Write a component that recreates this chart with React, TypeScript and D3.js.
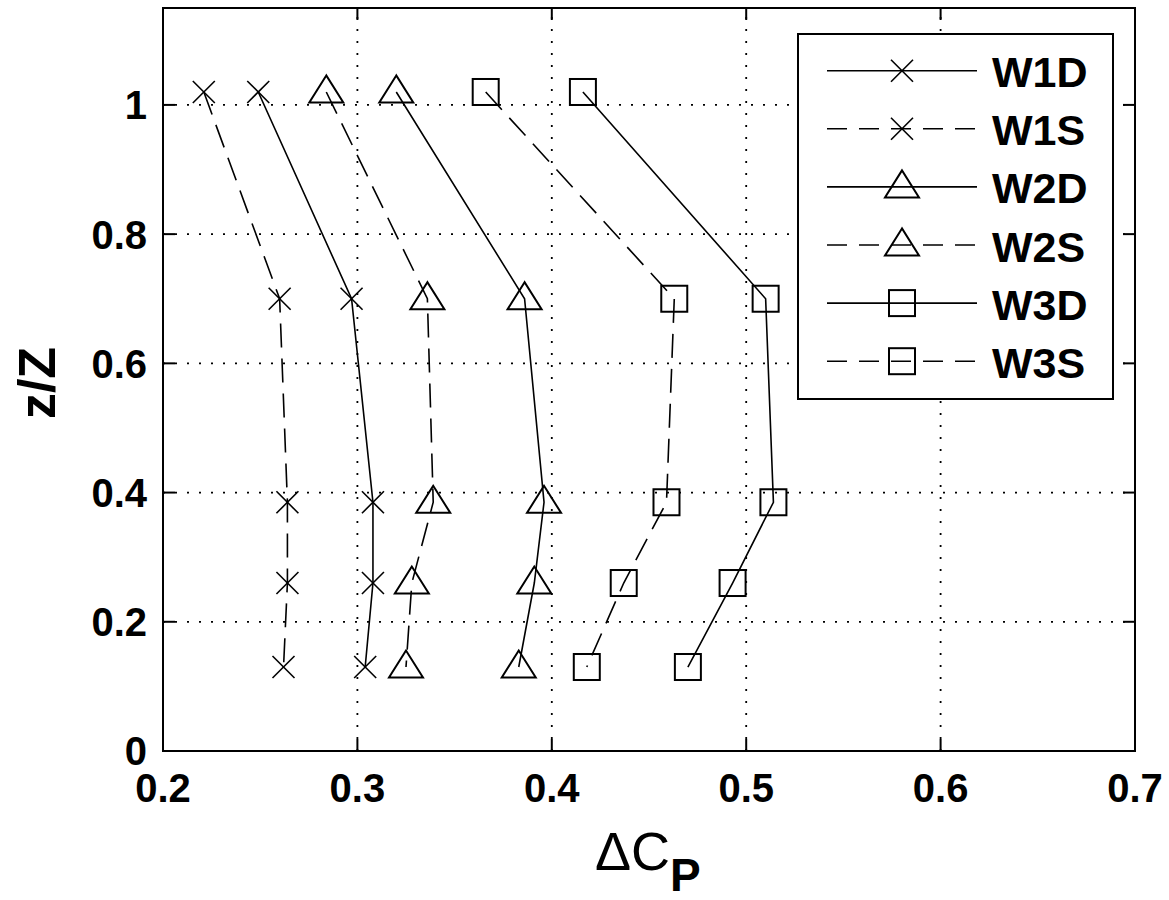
import React from "react";
import * as d3 from "d3";

const Z = [1.02, 0.7, 0.385, 0.26, 0.13];
const W1D = [0.249, 0.297, 0.308, 0.308, 0.304];
const W1S = [0.221, 0.26, 0.264, 0.264, 0.262];
const W2D = [0.32, 0.386, 0.396, 0.391, 0.383];
const W2S = [0.284, 0.336, 0.339, 0.328, 0.325];
const W3D = [0.416, 0.51, 0.514, 0.493, 0.47];
const W3S = [0.366, 0.463, 0.459, 0.437, 0.418];

const SERIES_NAMES = ["W1D", "W1S", "W2D", "W2S", "W3D", "W3S"];
const SERIES_VALUES = [W1D, W1S, W2D, W2S, W3D, W3S];
const SERIES_MARKERS = ["x", "x", "tri", "tri", "sq", "sq"];
const SERIES_DASHED = [false, true, false, true, false, true];

const X_TICKS = [0.2, 0.3, 0.4, 0.5, 0.6, 0.7];
const Y_TICKS = [0, 0.2, 0.4, 0.6, 0.8, 1];
const X_DOMAIN = [0.2, 0.7];
const Y_DOMAIN = [0, 1.15];

const FONT = "'Liberation Sans', Arial, Helvetica, sans-serif";
const DASH = "24 11";

function Marker({ type, cx, cy }: { type: string; cx: number; cy: number }) {
  if (type === "x") {
    const s = 11;
    return (
      <g stroke="#000" strokeWidth={1.6} fill="none">
        <line x1={cx - s} y1={cy - s} x2={cx + s} y2={cy + s} />
        <line x1={cx - s} y1={cy + s} x2={cx + s} y2={cy - s} />
      </g>
    );
  }
  if (type === "tri") {
    const w = 17;
    const pts = `${cx},${cy - 16.5} ${cx - w},${cy + 10.5} ${cx + w},${cy + 10.5}`;
    return <polygon points={pts} fill="none" stroke="#000" strokeWidth={2} />;
  }
  const h = 13;
  return <rect x={cx - h} y={cy - h} width={2 * h} height={2 * h} fill="none" stroke="#000" strokeWidth={2} />;
}

export default function App() {
  const left = 163, right = 1135, top = 8, bottom = 751;
  const x = d3.scaleLinear().domain(X_DOMAIN).range([left, right]);
  const y = d3.scaleLinear().domain(Y_DOMAIN).range([bottom, top]);
  const line = d3
    .line<[number, number]>()
    .x((d) => x(d[0]))
    .y((d) => y(d[1]));

  const legX = 798, legY = 34, legW = 315, legH = 365;
  const rowY = (i: number) => 70.7 + i * 58.1;

  return (
    <svg
      width={1169}
      height={900}
      style={{ position: "absolute", left: 0, top: 0, background: "#fff" }}
      fontFamily={FONT}
    >
      <rect x={0} y={0} width={1169} height={900} fill="#fff" />
      {/* grid */}
      <g stroke="#000" strokeWidth={1.8} strokeDasharray="2 10">
        {X_TICKS.filter((t) => t > X_DOMAIN[0] && t < X_DOMAIN[1]).map((t) => (
          <line key={"gx" + t} x1={x(t)} x2={x(t)} y1={bottom} y2={top} />
        ))}
        {Y_TICKS.filter((t) => t > Y_DOMAIN[0]).map((t) => (
          <line key={"gy" + t} x1={left} x2={right} y1={y(t)} y2={y(t)} />
        ))}
      </g>
      {/* series */}
      {SERIES_VALUES.map((vals, si) => {
        const pts: [number, number][] = vals.map((v, i) => [v, Z[i]]);
        return (
          <g key={SERIES_NAMES[si]}>
            <path
              d={line(pts) || ""}
              fill="none"
              stroke="#000"
              strokeWidth={1.6}
              strokeDasharray={SERIES_DASHED[si] ? DASH : undefined}
            />
            {pts.map((p, i) => (
              <Marker key={i} type={SERIES_MARKERS[si]} cx={x(p[0])} cy={y(p[1])} />
            ))}
          </g>
        );
      })}
      {/* axes box */}
      <rect x={left} y={top} width={right - left} height={bottom - top} fill="none" stroke="#000" strokeWidth={2} />
      {/* ticks */}
      <g stroke="#000" strokeWidth={2}>
        {X_TICKS.map((t) => (
          <g key={"tx" + t}>
            <line x1={x(t)} x2={x(t)} y1={bottom} y2={bottom - 12} />
            <line x1={x(t)} x2={x(t)} y1={top} y2={top + 12} />
          </g>
        ))}
        {Y_TICKS.map((t) => (
          <g key={"ty" + t}>
            <line x1={left} x2={left + 12} y1={y(t)} y2={y(t)} />
            <line x1={right} x2={right - 12} y1={y(t)} y2={y(t)} />
          </g>
        ))}
      </g>
      {/* tick labels */}
      <g fontSize={40} fontWeight="bold" fill="#000">
        {X_TICKS.map((t) => (
          <text key={"lx" + t} x={x(t)} y={802} textAnchor="middle">
            {String(t)}
          </text>
        ))}
        {Y_TICKS.map((t) => (
          <text key={"ly" + t} x={147} y={y(t)} dy="0.36em" textAnchor="end">
            {String(t)}
          </text>
        ))}
      </g>
      {/* axis labels */}
      <text transform="translate(55,383) rotate(-90)" textAnchor="middle" fontSize={52} fontWeight="bold">
        z/Z
      </text>
      <text x={595} y={870} fontSize={54}>
        ΔC
        <tspan dy={21} fontSize={46} fontWeight="bold">
          P
        </tspan>
      </text>
      {/* legend */}
      <rect x={legX} y={legY} width={legW} height={legH} fill="#fff" stroke="#000" strokeWidth={2} />
      {SERIES_NAMES.map((name, i) => (
        <g key={"leg" + name}>
          <line
            x1={827}
            x2={977}
            y1={rowY(i)}
            y2={rowY(i)}
            stroke="#000"
            strokeWidth={1.6}
            strokeDasharray={SERIES_DASHED[i] ? "20 12" : undefined}
          />
          <Marker type={SERIES_MARKERS[i]} cx={902} cy={rowY(i)} />
          <text x={992} y={rowY(i) + 16.5} fontSize={43} fontWeight="bold">
            {name}
          </text>
        </g>
      ))}
    </svg>
  );
}
